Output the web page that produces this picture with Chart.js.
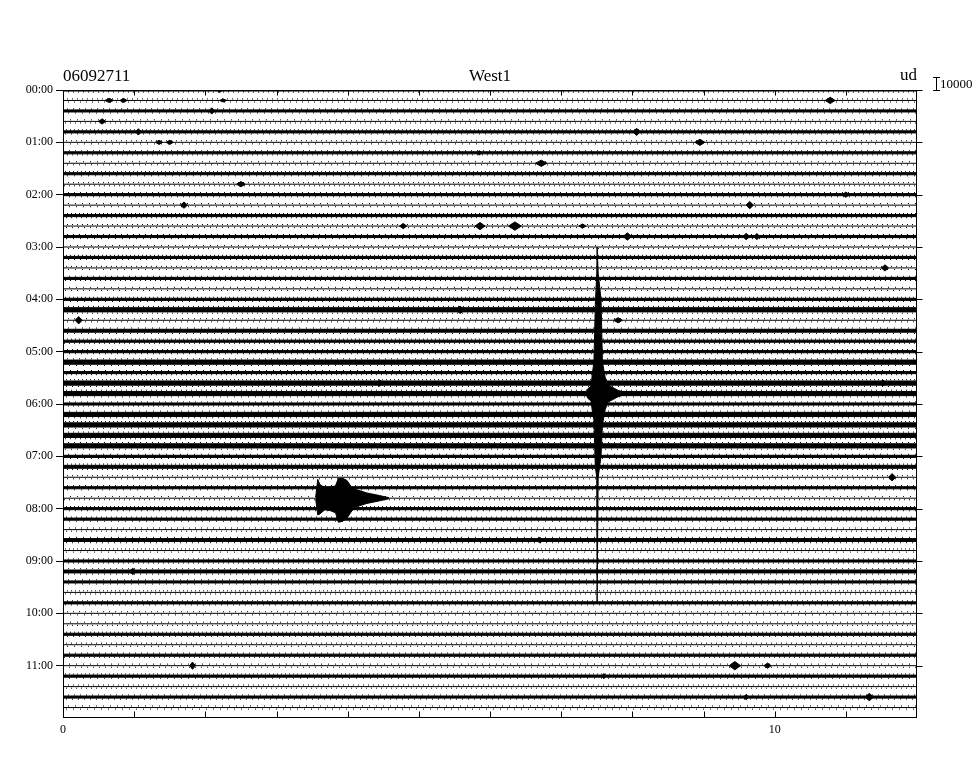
<!DOCTYPE html>
<html>
<head>
<meta charset="utf-8">
<script src="https://cdn.jsdelivr.net/npm/chart.js@4.4.0/dist/chart.umd.min.js"></script>
<style>
  html, body { margin: 0; padding: 0; background: #fff; }
  #wrap { width: 979px; height: 765px; }
</style>
</head>
<body>
<div id="wrap"><canvas id="heli" width="979" height="765"></canvas></div>
<script>
// helicorder page: 60 traces of 12 minutes, one row = one trace
const stationCode = "06092711"
const stationName = "West1"
const component = "ud"
const scaleLabel = "10000"
const hourLabels = ["00:00", "01:00", "02:00", "03:00", "04:00", "05:00",
  "06:00", "07:00", "08:00", "09:00", "10:00", "11:00"]
const minuteLabels = ["0", "", "", "", "", "", "", "", "", "", "10", "", ""]

// background noise per row (half width, in row units) and its peak excursion
const rowNoise = [
  0.1, 0, 0.1, 0, 0.1, 0, 0.1, 0, 0.1, 0,
  0.1, 0, 0.1, 0, 0.1, 0, 0.1, 0, 0.1, 0,
  0.1, 0.2, 0, 0.14, 0.1, 0.1, 0.2, 0.1, 0.2, 0.2,
  0.1, 0.2, 0.2, 0.2, 0.2, 0.1, 0.14, 0, 0.1, 0,
  0.1, 0.1, 0, 0.14, 0, 0.1, 0.14, 0.1, 0, 0.1,
  0, 0, 0.1, 0, 0.1, 0, 0.1, 0, 0.1, 0,
]
const rowPeak = [
  0.2, 0.15, 0.2, 0.15, 0.2, 0.15, 0.2, 0.15, 0.2, 0.15,
  0.2, 0.15, 0.2, 0.15, 0.2, 0.15, 0.2, 0.15, 0.2, 0.15,
  0.2, 0.32, 0.15, 0.26, 0.2, 0.2, 0.32, 0.2, 0.32, 0.32,
  0.2, 0.32, 0.32, 0.32, 0.32, 0.2, 0.26, 0.15, 0.2, 0.15,
  0.2, 0.2, 0.15, 0.26, 0.15, 0.2, 0.26, 0.2, 0.15, 0.2,
  0.15, 0.15, 0.2, 0.15, 0.2, 0.15, 0.2, 0.15, 0.2, 0.15,
]

// small bursts: [row, minute, amplitude (rows), half duration (min)]
const blips = [
  [0, 2.2, 0.25, 0.04], [1, 0.65, 0.2, 0.06], [1, 0.85, 0.2, 0.05], [1, 2.25, 0.15, 0.05],
  [1, 10.78, 0.3, 0.07], [2, 2.09, 0.3, 0.04], [3, 0.55, 0.25, 0.05], [4, 1.06, 0.3, 0.04],
  [4, 8.06, 0.35, 0.05], [5, 1.35, 0.2, 0.05], [5, 1.5, 0.2, 0.05], [5, 8.95, 0.3, 0.07],
  [6, 5.85, 0.2, 0.04], [7, 6.72, 0.3, 0.08], [9, 2.5, 0.25, 0.06], [10, 11.0, 0.25, 0.05],
  [11, 1.7, 0.3, 0.05], [11, 9.65, 0.35, 0.05], [13, 4.78, 0.25, 0.05], [13, 5.86, 0.35, 0.07],
  [13, 6.35, 0.4, 0.09], [13, 7.3, 0.2, 0.05], [14, 7.93, 0.35, 0.06], [14, 9.6, 0.3, 0.05],
  [14, 9.75, 0.3, 0.04], [17, 11.55, 0.3, 0.05], [21, 5.58, 0.35, 0.06], [22, 0.22, 0.35, 0.05],
  [22, 7.8, 0.25, 0.06], [28, 4.45, 0.3, 0.05], [28, 11.52, 0.3, 0.05], [37, 11.65, 0.35, 0.05],
  [43, 6.7, 0.25, 0.06], [46, 0.98, 0.3, 0.05], [55, 1.82, 0.35, 0.04], [55, 9.44, 0.4, 0.08],
  [55, 9.9, 0.25, 0.05], [56, 7.6, 0.25, 0.03], [58, 9.6, 0.25, 0.04], [58, 11.33, 0.35, 0.06],
]

// local event on the 07:48 trace
const localRow = 39
const localTime = [3.55, 3.58, 3.61, 3.68, 3.76, 3.83, 3.87, 3.93, 3.99, 4.06, 4.13, 4.27, 4.45, 4.58]
const localUp = [0.1, 1.8, 1.3, 1.0, 1.0, 1.2, 1.9, 1.9, 1.7, 1.0, 0.8, 0.5, 0.25, 0.05]
const localDown = [0.1, 1.6, 1.5, 1.1, 1.2, 1.4, 2.3, 2.2, 1.9, 1.2, 0.8, 0.5, 0.25, 0.05]

// large event on the 05:48 trace
const bigRow = 29
const bigTime = [7.35, 7.38, 7.42, 7.44, 7.46, 7.48, 7.5, 7.505, 7.515, 7.52, 7.56, 7.58, 7.62, 7.66, 7.72, 7.8, 7.9]
const bigUp = [0.1, 0.5, 0.7, 2.0, 3.0, 8.5, 11.5, 14, 14, 11.5, 9.0, 3.0, 1.5, 0.8, 0.6, 0.3, 0.1]
const bigDown = [0.1, 0.5, 0.7, 1.8, 2.5, 7.0, 8.0, 20, 20, 8.0, 6.0, 3.0, 1.5, 0.8, 0.6, 0.3, 0.1]

const ink = "#000"
const datasets = []

function flat(y) {
  return [{ x: 0, y: y }, { x: 12, y: y }]
}

// a filled band between two polylines
function band(top, bottom) {
  datasets.push({ data: top, borderColor: ink, borderWidth: 1, fill: false })
  datasets.push({ data: bottom, borderColor: ink, borderWidth: 1, backgroundColor: ink,
    fill: datasets.length - 1 })
}

rowNoise.forEach((n, k) => {
  if (n > 0) {
    band(flat(k - n), flat(k + n))
  } else {
    datasets.push({ data: flat(k), borderColor: ink, borderWidth: 1, fill: false })
  }
  datasets.push({ data: flat(k - rowPeak[k]), borderColor: ink, borderWidth: 1,
    borderDash: [1, 3 + (k % 4)], borderDashOffset: k % 3, fill: false })
  datasets.push({ data: flat(k + rowPeak[k]), borderColor: ink, borderWidth: 1,
    borderDash: [1, 4 + (k % 3)], borderDashOffset: k % 5, fill: false })
})

blips.forEach(([r, m, a, d]) => {
  band([{ x: m - d, y: r }, { x: m, y: r - a }, { x: m + d, y: r }],
       [{ x: m - d, y: r }, { x: m, y: r + a }, { x: m + d, y: r }])
})

band(localTime.map((t, i) => ({ x: t, y: localRow - localUp[i] })),
     localTime.map((t, i) => ({ x: t, y: localRow + localDown[i] })))
band(bigTime.map((t, i) => ({ x: t, y: bigRow - bigUp[i] })),
     bigTime.map((t, i) => ({ x: t, y: bigRow + bigDown[i] })))

const frame = {
  id: "frame",
  afterDraw(chart) {
    const { ctx, chartArea: a, scales } = chart
    ctx.save()
    ctx.strokeStyle = ink
    ctx.lineWidth = 1
    const L = Math.round(a.left) + 0.5, R = Math.round(a.right) - 0.5
    const T = Math.round(a.top) + 0.5, B = Math.round(a.bottom) - 0.5
    ctx.strokeRect(L, T, R - L, B - T)
    ctx.beginPath()
    for (let m = 1; m < 12; m++) {
      const x = Math.round(scales.x.getPixelForValue(m)) + 0.5
      ctx.moveTo(x, T); ctx.lineTo(x, T + 5)
      ctx.moveTo(x, B); ctx.lineTo(x, B - 6)
    }
    for (let h = 0; h < hourLabels.length; h++) {
      const y = Math.round(scales.y.getPixelForValue(h * 5)) + 0.5
      ctx.moveTo(R, y); ctx.lineTo(R + 6, y)
    }
    // amplitude scale bar
    ctx.moveTo(936.5, 77); ctx.lineTo(936.5, 91)
    ctx.moveTo(933, 77.5); ctx.lineTo(940, 77.5)
    ctx.moveTo(933, 90.5); ctx.lineTo(940, 90.5)
    ctx.stroke()

    ctx.fillStyle = ink
    ctx.textBaseline = "alphabetic"
    ctx.font = "17px 'Liberation Serif'"
    ctx.textAlign = "left"
    ctx.fillText(stationCode, a.left, 81)
    ctx.textAlign = "center"
    ctx.fillText(stationName, 490, 81)
    ctx.textAlign = "right"
    ctx.fillText(component, a.right, 80)
    ctx.font = "13px 'Liberation Serif'"
    ctx.textAlign = "left"
    ctx.fillText(scaleLabel, 940, 88)
    ctx.restore()
  },
}

new Chart(document.getElementById("heli"), {
  type: "line",
  data: { datasets },
  options: {
    responsive: false,
    animation: false,
    events: [],
    layout: { padding: { top: 90, right: 62, bottom: 27, left: 0 } },
    elements: { point: { radius: 0 }, line: { tension: 0 } },
    plugins: {
      legend: { display: false },
      tooltip: { enabled: false },
      filler: { propagate: false },
    },
    scales: {
      x: {
        type: "linear",
        min: 0,
        max: 12,
        grid: { display: false, drawTicks: false },
        border: { display: false },
        ticks: {
          stepSize: 1,
          autoSkip: false,
          maxRotation: 0,
          padding: 5,
          color: ink,
          font: { family: "'Liberation Serif'", size: 12 },
          callback: (v) => minuteLabels[v] || "",
        },
        afterFit: (s) => { s.height = 20 },
      },
      y: {
        type: "linear",
        min: 0,
        max: 60,
        reverse: true,
        grid: { drawOnChartArea: false, drawTicks: true, tickLength: 7, color: ink },
        border: { display: false },
        afterBuildTicks: (s) => { s.ticks = hourLabels.map((_, h) => ({ value: h * 5 })) },
        ticks: {
          autoSkip: false,
          padding: 3,
          color: ink,
          font: { family: "'Liberation Serif'", size: 12 },
          callback: (v) => hourLabels[v / 5],
        },
        afterFit: (s) => { s.width = 63 },
      },
    },
  },
  plugins: [frame],
})
</script>
</body>
</html>
